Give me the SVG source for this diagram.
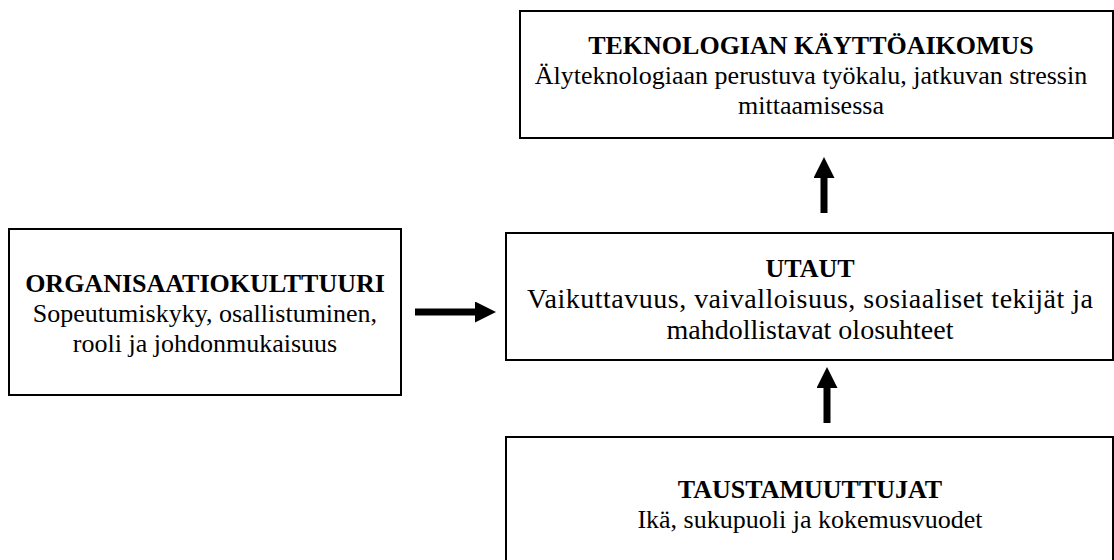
<svg xmlns="http://www.w3.org/2000/svg" width="1114" height="560" viewBox="0 0 1114 560">
  <style>
    .box { fill: #ffffff; stroke: #000000; stroke-width: 2; }
    text { fill: #000000; text-anchor: middle; font-size: 26px; }
    .title { font-weight: bold; }
    .large { font-size: 28px; }
    .conn { stroke: #000000; stroke-width: 7; fill: none; marker-end: url(#head); }
  </style>
  <defs>
    <marker id="head" viewBox="0 0 21 21" markerUnits="userSpaceOnUse" markerWidth="21" markerHeight="21" refX="0" refY="10.5" orient="auto">
      <path d="M0,0 L21,10.5 L0,21 Z" fill="#000000"/>
    </marker>
  </defs>
  <rect width="1114" height="560" fill="#ffffff"/>

  <g font-family="'Liberation Serif', 'DejaVu Serif', serif">
    <g id="kayttoaikomus">
      <rect class="box" x="520" y="11" width="593" height="127"/>
      <text class="title" x="811" y="54">TEKNOLOGIAN KÄYTTÖAIKOMUS</text>
      <text x="811" y="84">Älyteknologiaan perustuva työkalu, jatkuvan stressin</text>
      <text x="811" y="114">mittaamisessa</text>
    </g>

    <g id="organisaatiokulttuuri">
      <rect class="box" x="9" y="229" width="392" height="166"/>
      <text class="title" x="205" y="292">ORGANISAATIOKULTTUURI</text>
      <text x="205" y="322">Sopeutumiskyky, osallistuminen,</text>
      <text x="205" y="352">rooli ja johdonmukaisuus</text>
    </g>

    <g id="utaut">
      <rect class="box" x="506" y="233" width="607" height="127"/>
      <text class="title" x="810" y="277">UTAUT</text>
      <text class="large" x="810" y="308" textLength="566" lengthAdjust="spacing">Vaikuttavuus, vaivalloisuus, sosiaaliset tekijät ja</text>
      <text class="large" x="810" y="339">mahdollistavat olosuhteet</text>
    </g>

    <g id="taustamuuttujat">
      <rect class="box" x="506" y="437" width="607" height="140"/>
      <text class="title" x="810" y="498">TAUSTAMUUTTUJAT</text>
      <text x="810" y="528">Ikä, sukupuoli ja kokemusvuodet</text>
    </g>
  </g>

  <g id="connectors">
    <line class="conn" x1="824" y1="213" x2="824" y2="178"/>
    <line class="conn" x1="827" y1="423" x2="827" y2="388"/>
    <line class="conn" x1="415" y1="312" x2="475" y2="312"/>
  </g>
</svg>
